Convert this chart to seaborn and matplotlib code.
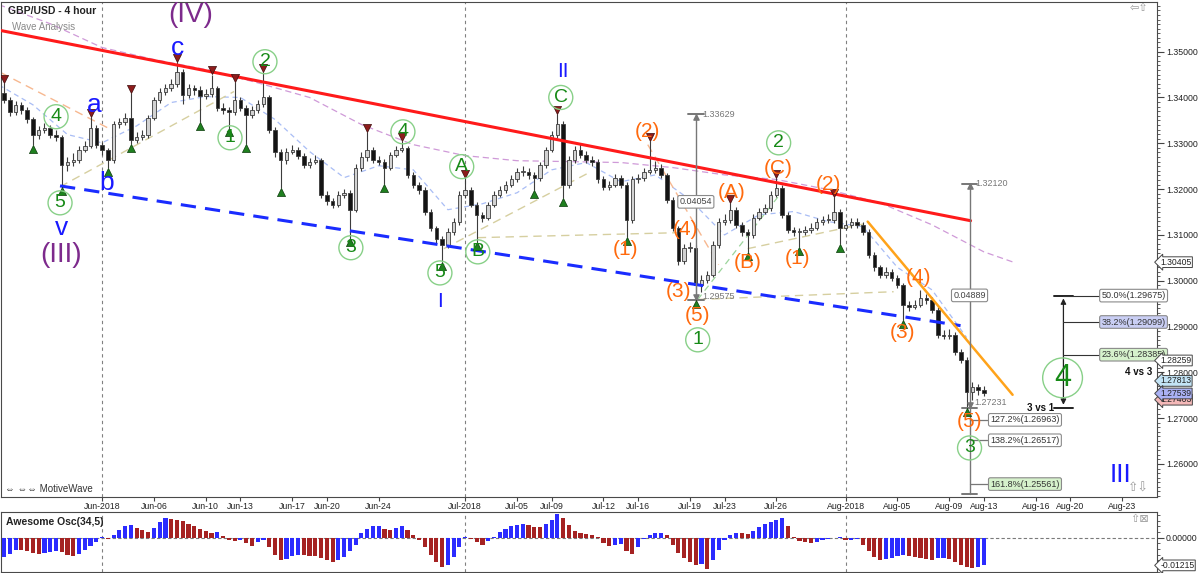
import numpy as np
import pandas as pd
import seaborn as sns
import matplotlib.pyplot as plt
import matplotlib.transforms as mtransforms
from matplotlib.patches import Rectangle
from matplotlib.ticker import MultipleLocator, FormatStrFormatter

# GBP/USD, resampled to 8 hour bars (trading days only)
first_bar = "2018-05-24 08:00"
last_bar = "2018-08-13 00:00"
first_open = 1.3410

closes = [
    1.3395, 1.3369, 1.3384, 1.3373, 1.3352, 1.3317, 1.3330, 1.3334, 1.3319, 1.3314,
    1.3253, 1.3260, 1.3264, 1.3286, 1.3295, 1.3334, 1.3297, 1.3286, 1.3264, 1.3341,
    1.3347, 1.3356, 1.3308, 1.3314, 1.3319, 1.3356, 1.3395, 1.3413, 1.3421, 1.3430,
    1.3456, 1.3406, 1.3421, 1.3417, 1.3404, 1.3408, 1.3421, 1.3378, 1.3373, 1.3369,
    1.3395, 1.3378, 1.3362, 1.3373, 1.3386, 1.3400, 1.3330, 1.3282, 1.3264, 1.3282,
    1.3286, 1.3273, 1.3253, 1.3260, 1.3264, 1.3188, 1.3173, 1.3166, 1.3188, 1.3192,
    1.3155, 1.3247, 1.3269, 1.3286, 1.3264, 1.3260, 1.3247, 1.3275, 1.3286, 1.3290,
    1.3231, 1.3210, 1.3199, 1.3151, 1.3116, 1.3090, 1.3079, 1.3107, 1.3129, 1.3188,
    1.3199, 1.3166, 1.3144, 1.3138, 1.3166, 1.3188, 1.3199, 1.3210, 1.3221, 1.3238,
    1.3238, 1.3231, 1.3225, 1.3253, 1.3286, 1.3319, 1.3341, 1.3210, 1.3264, 1.3286,
    1.3275, 1.3264, 1.3260, 1.3221, 1.3205, 1.3210, 1.3225, 1.3210, 1.3133, 1.3221,
    1.3225, 1.3238, 1.3242, 1.3247, 1.3231, 1.3177, 1.3116, 1.3042, 1.3072, 1.3072,
    1.2991, 1.3002, 1.3013, 1.3079, 1.3129, 1.3133, 1.3155, 1.3122, 1.3107, 1.3100,
    1.3138, 1.3151, 1.3159, 1.3188, 1.3203, 1.3144, 1.3111, 1.3107, 1.3107, 1.3111,
    1.3116, 1.3129, 1.3133, 1.3133, 1.3151, 1.3116, 1.3122, 1.3129, 1.3122, 1.3107,
    1.3057, 1.3029, 1.3013, 1.3020, 1.3007, 1.2991, 1.2948, 1.2943, 1.2948, 1.2963,
    1.2959, 1.2937, 1.2882, 1.2880, 1.2882, 1.2845, 1.2828, 1.2758, 1.2767, 1.2762,
    1.2754,
]
highs = [
    1.3432, 1.3402, 1.3393, 1.3390, 1.3380, 1.3358, 1.3338, 1.3345, 1.3340, 1.3328,
    1.3318, 1.3270, 1.3278, 1.3295, 1.3305, 1.3358, 1.3340, 1.3303, 1.3290, 1.3348,
    1.3356, 1.3366, 1.3410, 1.3325, 1.3330, 1.3362, 1.3402, 1.3420, 1.3430, 1.3440,
    1.3478, 1.3462, 1.3430, 1.3428, 1.3424, 1.3418, 1.3450, 1.3426, 1.3388, 1.3380,
    1.3434, 1.3400, 1.3384, 1.3382, 1.3395, 1.3456, 1.3405, 1.3335, 1.3288, 1.3290,
    1.3296, 1.3292, 1.3278, 1.3268, 1.3275, 1.3268, 1.3195, 1.3180, 1.3196, 1.3200,
    1.3198, 1.3255, 1.3280, 1.3325, 1.3292, 1.3272, 1.3266, 1.3282, 1.3294, 1.3304,
    1.3295, 1.3238, 1.3216, 1.3204, 1.3156, 1.3120, 1.3098, 1.3114, 1.3136, 1.3195,
    1.3225, 1.3205, 1.3172, 1.3150, 1.3172, 1.3195, 1.3206, 1.3218, 1.3230, 1.3246,
    1.3250, 1.3245, 1.3238, 1.3260, 1.3292, 1.3326, 1.3363, 1.3348, 1.3272, 1.3295,
    1.3300, 1.3284, 1.3272, 1.3266, 1.3228, 1.3218, 1.3232, 1.3230, 1.3215, 1.3228,
    1.3234, 1.3246, 1.3304, 1.3262, 1.3254, 1.3236, 1.3182, 1.3120, 1.3080, 1.3085,
    1.3078, 1.3012, 1.3022, 1.3086, 1.3136, 1.3145, 1.3170, 1.3160, 1.3128, 1.3112,
    1.3145, 1.3158, 1.3168, 1.3196, 1.3225, 1.3208, 1.3150, 1.3118, 1.3116, 1.3120,
    1.3126, 1.3136, 1.3142, 1.3145, 1.3183, 1.3156, 1.3132, 1.3138, 1.3136, 1.3128,
    1.3112, 1.3062, 1.3034, 1.3030, 1.3026, 1.3012, 1.2996, 1.2955, 1.2958, 1.2980,
    1.2972, 1.2964, 1.2942, 1.2892, 1.2894, 1.2888, 1.2850, 1.2834, 1.2778, 1.2775,
    1.2770,
]
lows = [
    1.3388, 1.3360, 1.3362, 1.3365, 1.3345, 1.3297, 1.3310, 1.3322, 1.3312, 1.3305,
    1.3205, 1.3240, 1.3250, 1.3258, 1.3280, 1.3290, 1.3290, 1.3275, 1.3247, 1.3258,
    1.3333, 1.3340, 1.3299, 1.3300, 1.3307, 1.3312, 1.3350, 1.3388, 1.3405, 1.3414,
    1.3422, 1.3385, 1.3398, 1.3405, 1.3347, 1.3396, 1.3402, 1.3370, 1.3365, 1.3334,
    1.3362, 1.3370, 1.3299, 1.3355, 1.3366, 1.3380, 1.3322, 1.3270, 1.3203, 1.3255,
    1.3276, 1.3266, 1.3245, 1.3246, 1.3254, 1.3180, 1.3165, 1.3158, 1.3160, 1.3180,
    1.3094, 1.3150, 1.3240, 1.3262, 1.3258, 1.3252, 1.3212, 1.3242, 1.3270, 1.3280,
    1.3225, 1.3202, 1.3190, 1.3144, 1.3108, 1.3082, 1.3042, 1.3072, 1.3100, 1.3122,
    1.3180, 1.3160, 1.3085, 1.3128, 1.3132, 1.3160, 1.3182, 1.3192, 1.3204, 1.3215,
    1.3228, 1.3222, 1.3199, 1.3218, 1.3246, 1.3280, 1.3312, 1.3181, 1.3202, 1.3258,
    1.3268, 1.3256, 1.3250, 1.3214, 1.3198, 1.3198, 1.3204, 1.3203, 1.3096, 1.3126,
    1.3214, 1.3218, 1.3232, 1.3236, 1.3224, 1.3170, 1.3108, 1.3035, 1.3036, 1.3062,
    1.2958, 1.2975, 1.2995, 1.3008, 1.3072, 1.3122, 1.3126, 1.3115, 1.3098, 1.3063,
    1.3094, 1.3132, 1.3145, 1.3152, 1.3182, 1.3138, 1.3104, 1.3098, 1.3074, 1.3100,
    1.3105, 1.3110, 1.3122, 1.3125, 1.3126, 1.3081, 1.3110, 1.3115, 1.3115, 1.3100,
    1.3050, 1.3022, 1.3006, 1.3005, 1.3000, 1.2984, 1.2915, 1.2935, 1.2938, 1.2942,
    1.2950, 1.2930, 1.2874, 1.2872, 1.2873, 1.2838, 1.2820, 1.2723, 1.2740, 1.2750,
    1.2748,
]
# Awesome Oscillator (34,5), one value per bar
ao_values = [
    -0.0086, -0.0070, -0.0052, -0.0055, -0.0060, -0.0066, -0.0072, -0.0068, -0.0062, -0.0058,
    -0.0064, -0.0075, -0.0082, -0.0070, -0.0052, -0.0035, -0.0018, 0.0003, -0.0004, 0.0010,
    0.0035, 0.0052, 0.0058, 0.0045, 0.0032, 0.0025, 0.0045, 0.0068, 0.0086, 0.0084,
    0.0080, 0.0072, 0.0062, 0.0052, 0.0040, 0.0030, 0.0022, 0.0025, 0.0008, -0.0012,
    -0.0016, -0.0010, -0.0025, -0.0035, -0.0020, -0.0012, -0.0040, -0.0075, -0.0098, -0.0092,
    -0.0080, -0.0075, -0.0077, -0.0079, -0.0081, -0.0088, -0.0100, -0.0107, -0.0100, -0.0085,
    -0.0060, -0.0030, 0.0020, 0.0040, 0.0050, 0.0052, 0.0040, 0.0035, 0.0045, 0.0052,
    0.0035, 0.0012, -0.0010, -0.0040, -0.0075, -0.0105, -0.0130, -0.0120, -0.0085, -0.0040,
    0.0003, -0.0005, -0.0018, -0.0030, -0.0015, 0.0005, 0.0025, 0.0040, 0.0050, 0.0058,
    0.0062, 0.0058, 0.0048, 0.0046, 0.0060, 0.0080, 0.0103, 0.0085, 0.0055, 0.0030,
    0.0020, 0.0016, 0.0012, 0.0005, -0.0025, -0.0035, -0.0030, -0.0028, -0.0060, -0.0071,
    -0.0040, -0.0005, 0.0012, 0.0020, 0.0023, 0.0010, -0.0030, -0.0065, -0.0090, -0.0105,
    -0.0118, -0.0115, -0.0136, -0.0100, -0.0055, -0.0010, 0.0012, 0.0023, 0.0020, 0.0018,
    0.0030, 0.0048, 0.0060, 0.0068, 0.0076, 0.0086, 0.0050, 0.0005, -0.0015, -0.0020,
    -0.0022, -0.0018, -0.0012, -0.0006, -0.0002, 0.0002, -0.0010, -0.0008, -0.0006, -0.0030,
    -0.0060, -0.0085, -0.0100, -0.0095, -0.0088, -0.0082, -0.0078, -0.0080, -0.0085, -0.0090,
    -0.0093, -0.0096, -0.0090, -0.0088, -0.0092, -0.0105, -0.0118, -0.0130, -0.0134, -0.0128,
    -0.01215,
]

# moving averages drawn on the chart
slow_ma_dates = ["2018-05-24", "2018-05-29", "2018-06-01", "2018-06-06", "2018-06-11", "2018-06-14",
                 "2018-06-19", "2018-06-22", "2018-06-27", "2018-07-02", "2018-07-05", "2018-07-10",
                 "2018-07-13", "2018-07-18", "2018-07-23", "2018-07-26", "2018-07-31", "2018-08-03",
                 "2018-08-08", "2018-08-13", "2018-08-14 16:00"]
slow_ma = [1.3603, 1.3561, 1.3509, 1.3483, 1.3461, 1.3432, 1.3400, 1.3341, 1.3297, 1.3273, 1.3262,
           1.3260, 1.3258, 1.3247, 1.3231, 1.3221, 1.3199, 1.3170, 1.3122, 1.3063, 1.3041]
fast_ma_dates = ["2018-05-24", "2018-05-28", "2018-05-30", "2018-06-01", "2018-06-05", "2018-06-07",
                 "2018-06-11", "2018-06-13", "2018-06-15", "2018-06-19", "2018-06-21", "2018-06-25",
                 "2018-06-27", "2018-06-29", "2018-07-03", "2018-07-05", "2018-07-09", "2018-07-11",
                 "2018-07-13", "2018-07-17", "2018-07-19", "2018-07-23", "2018-07-25", "2018-07-27",
                 "2018-07-31", "2018-08-02", "2018-08-06", "2018-08-08", "2018-08-10"]
fast_ma = [1.3428, 1.3384, 1.3319, 1.3301, 1.3338, 1.3389, 1.3402, 1.3400, 1.3352, 1.3282, 1.3225,
           1.3251, 1.3242, 1.3155, 1.3168, 1.3192, 1.3242, 1.3258, 1.3216, 1.3231, 1.3177, 1.3100,
           1.3144, 1.3151, 1.3129, 1.3118, 1.3029, 1.2980, 1.2876]

tick_dates = ["2018-06-01", "2018-06-06", "2018-06-10", "2018-06-13", "2018-06-17", "2018-06-20",
              "2018-06-24", "2018-07-01", "2018-07-05", "2018-07-09", "2018-07-12", "2018-07-16",
              "2018-07-19", "2018-07-23", "2018-07-26", "2018-08-01", "2018-08-05", "2018-08-09",
              "2018-08-13", "2018-08-16", "2018-08-20", "2018-08-23"]
tick_labels = ["Jun-2018", "Jun-06", "Jun-10", "Jun-13", "Jun-17", "Jun-20", "Jun-24", "Jul-2018",
               "Jul-05", "Jul-09", "Jul-12", "Jul-16", "Jul-19", "Jul-23", "Jul-26", "Aug-2018",
               "Aug-05", "Aug-09", "Aug-13", "Aug-16", "Aug-20", "Aug-23"]
month_starts = ["2018-06-01", "2018-07-01", "2018-08-01"]

# swing markers (bar numbers)
peak_bars = [0, 15, 22, 30, 36, 40, 45, 63, 69, 80, 96, 112, 126, 134, 144]
trough_bars = [5, 10, 18, 22, 34, 39, 42, 48, 60, 66, 76, 82, 92, 97, 108, 120, 129, 138, 145, 156, 167]

# wave labels: text, trading day (0 = 1 Jun 2018), price, kind
waves = [
    ("(IV)", 5.14, 1.3581, "purple"), ("(III)", -2.37, 1.3057, "purple"),
    ("c", 4.39, 1.3509, "blue"), ("a", -0.46, 1.3384, "blue"), ("b", 0.29, 1.3214, "blue"),
    ("v", -2.37, 1.3116, "blue"), ("II", 26.65, 1.3456, "blue_s"), ("I", 19.54, 1.2954, "blue_s"),
    ("III", 58.9, 1.2577, "blue"),
    ("4", -2.66, 1.3358, "green"), ("5", -2.43, 1.3170, "green"), ("2", 9.42, 1.3478, "green"),
    ("1", 7.40, 1.3312, "green"), ("3", 14.39, 1.3072, "green"), ("4", 17.40, 1.3325, "green"),
    ("5", 19.54, 1.3017, "green"), ("A", 20.80, 1.3249, "green"), ("B", 21.73, 1.3063, "green"),
    ("C", 26.53, 1.3400, "green"), ("2", 39.13, 1.3301, "green"), ("1", 34.45, 1.2871, "green"),
    ("3", 50.17, 1.2635, "green"), ("4", 55.55, 1.2788, "green_big"),
    ("(2)", 31.56, 1.3325, "orange"), ("(1)", 30.29, 1.3068, "orange"), ("(4)", 33.76, 1.3111, "orange"),
    ("(3)", 33.35, 1.2976, "orange"), ("(5)", 34.45, 1.2924, "orange"), ("(A)", 36.42, 1.3192, "orange"),
    ("(B)", 37.34, 1.3039, "orange"), ("(C)", 39.13, 1.3245, "orange"), ("(1)", 40.23, 1.3048, "orange"),
    ("(2)", 42.02, 1.3210, "orange"), ("(3)", 46.30, 1.2887, "orange"), ("(4)", 47.23, 1.3007, "orange"),
    ("(5)", 50.17, 1.2692, "orange"),
]

# trend lines: (day1, price1, day2, price2)
red_line = (-5.84, 1.3546, 50.23, 1.3131)
blue_line = (-2.43, 1.3207, 49.65, 1.2902)
orange_line = (44.28, 1.3129, 52.66, 1.2751)
tan_lines = [(-2.43, 1.3205, 7.63, 1.3413), (19.77, 1.3070, 28.27, 1.3238), (21.73, 1.3094, 33.47, 1.3105),
             (37.34, 1.3070, 44.05, 1.3124), (34.45, 1.2959, 45.78, 1.2976)]
salmon_lines = [(-5.84, 1.3454, 0.52, 1.3330), (31.56, 1.3297, 35.66, 1.3035)]
green_lines = [(34.45, 1.2959, 39.42, 1.3199)]

# measurement tools
move_a = (34.34, 1.33629, 1.29575, "0.04054")
move_b = (50.17, 1.32120, 1.27231, "0.04889")
ext_levels = [(1.26963, "127.2%(1.26963)", "#ffffff"), (1.26517, "138.2%(1.26517)", "#ffffff"),
              (1.25561, "161.8%(1.25561)", "#d6f2cc")]
retr_day = 55.6
retr_levels = [(1.29675, "50.0%(1.29675)", "#ffffff"), (1.29099, "38.2%(1.29099)", "#c9cef4"),
               (1.28385, "23.6%(1.28385)", "#d6f2cc")]
price_tags = [(1.30405, "#ffffff"), (1.28259, "#ffffff"), (1.27813, "#c3e4f6"),
              (1.27403, "#f4b8b8"), (1.27539, "#aab1f4")]
ao_tag = -0.01215


def tday(stamp):
    ts = pd.Timestamp(stamp)
    return float(np.busday_count("2018-06-01", ts.strftime("%Y-%m-%d"))) + (ts.hour + ts.minute / 60) / 24


stamps = [d + pd.Timedelta(hours=h) for d in pd.bdate_range("2018-05-24", "2018-08-13") for h in (0, 8, 16)]
stamps = [s for s in stamps if pd.Timestamp(first_bar) <= s <= pd.Timestamp(last_bar)]
bars = pd.DataFrame({"t": [tday(s) for s in stamps], "open": [first_open] + closes[:-1],
                     "high": highs, "low": lows, "close": closes, "ao": ao_values})

sns.set_theme(style="white", rc={"axes.edgecolor": "#4a4a4a", "axes.linewidth": 0.8})
plt.rcParams["font.family"] = ["Liberation Sans", "DejaVu Sans"]

fig = plt.figure(figsize=(12, 5.73), dpi=100)
ax = fig.add_axes([0.001, 0.1335, 0.963, 0.8635])
ao_ax = fig.add_axes([0.001, 0.002, 0.963, 0.104])

# moving averages
sns.lineplot(data=pd.DataFrame({"t": [tday(d) for d in slow_ma_dates], "p": slow_ma}), x="t", y="p",
             ax=ax, color="#cf9ad8", lw=0.9, linestyle=(0, (5, 3)), estimator=None, sort=False, zorder=2)
sns.lineplot(data=pd.DataFrame({"t": [tday(d) for d in fast_ma_dates], "p": fast_ma}), x="t", y="p",
             ax=ax, color="#a9bdf5", lw=0.9, linestyle=(0, (4, 3)), estimator=None, sort=False, zorder=2)

for t1, p1, t2, p2 in tan_lines:
    ax.plot([t1, t2], [p1, p2], color="#d6cfa0", lw=1.0, ls=(0, (6, 4)), zorder=2)
for t1, p1, t2, p2 in salmon_lines:
    ax.plot([t1, t2], [p1, p2], color="#f7b890", lw=1.0, ls=(0, (6, 4)), zorder=2)
for t1, p1, t2, p2 in green_lines:
    ax.plot([t1, t2], [p1, p2], color="#9bd49b", lw=0.9, ls=(0, (5, 4)), zorder=2)

# candles
ax.vlines(bars.t, bars.low, bars.high, color="#3c3c3c", lw=0.8, zorder=3)
for r in bars.itertuples():
    lo, hi = min(r.open, r.close), max(r.open, r.close)
    ax.add_patch(Rectangle((r.t - 0.1, lo), 0.2, max(hi - lo, 0.00012),
                           facecolor="#d2d2d2" if r.close >= r.open else "#141414",
                           edgecolor="#3c3c3c", lw=0.6, zorder=4))

pk = bars.iloc[peak_bars]
ax.scatter(pk.t, pk.high + 0.0009, marker="v", s=34, color="#8e1c1c", edgecolor="#3b0b0b", lw=0.5, zorder=6)
tr = bars.iloc[trough_bars]
ax.scatter(tr.t, tr.low - 0.0009, marker="^", s=34, color="#1f801f", edgecolor="#0b3b0b", lw=0.5, zorder=6)

# trend lines
ax.plot(red_line[0::2], red_line[1::2], color="#ff1a1a", lw=2.2, zorder=5)
ax.plot(blue_line[0::2], blue_line[1::2], color="#1a2cff", lw=2.2, ls=(0, (5, 3)), zorder=5)
ax.plot(orange_line[0::2], orange_line[1::2], color="#ffa31a", lw=1.8, zorder=5)

for m in month_starts:
    for a in (ax, ao_ax):
        a.axvline(tday(m), color="#808080", lw=0.8, ls=(0, (3, 3)), zorder=1)

styles = {
    "purple": dict(color="#7d2a8c", fontsize=20),
    "blue": dict(color="#1a1aff", fontsize=19),
    "blue_s": dict(color="#1a1aff", fontsize=15),
    "orange": dict(color="#ff6a0d", fontsize=15),
    "green": dict(color="#178a17", fontsize=14,
                  bbox=dict(boxstyle="circle,pad=0.18", fc="none", ec="#88d088", lw=1.0)),
    "green_big": dict(color="#178a17", fontsize=22,
                      bbox=dict(boxstyle="circle,pad=0.16", fc="none", ec="#88d088", lw=1.0)),
}
for txt, t, p, kind in waves:
    ax.text(t, p, txt, ha="center", va="center", zorder=7, **styles[kind])

grey = "#777777"
small_box = dict(boxstyle="round,pad=0.2", fc="white", ec="#8a8a8a", lw=0.8)

# measured move A
t, top, bot, lab = move_a
ax.plot([t, t], [bot, top], color=grey, lw=1.0, zorder=5)
for p in (top, bot):
    ax.plot([t - 0.45, t + 0.45], [p, p], color=grey, lw=1.4, zorder=5)
ax.scatter([t], [top - 0.0006], marker="^", s=14, color=grey, zorder=5)
ax.scatter([t], [bot + 0.0006], marker="v", s=14, color=grey, zorder=5)
ax.text(t + 0.35, top, f"{top:.5f}", fontsize=6.5, color=grey, va="center", zorder=7)
ax.text(t + 0.35, bot + 0.0007, f"{bot:.5f}", fontsize=6.5, color=grey, va="center", zorder=7)
ax.text(t, (top + bot) / 2 + 0.0012, lab, fontsize=6.5, color="#444", ha="center", va="center", bbox=small_box, zorder=8)

# measured move B with extensions
t, top, bot, lab = move_b
ax.plot([t, t], [1.2535, top], color=grey, lw=1.0, zorder=5)
for p in (top, bot, 1.2535):
    ax.plot([t - 0.45, t + 0.45], [p, p], color=grey, lw=1.4, zorder=5)
ax.scatter([t], [top - 0.0006], marker="^", s=14, color=grey, zorder=5)
ax.scatter([t], [bot + 0.0006], marker="v", s=14, color=grey, zorder=5)
ax.text(t + 0.35, top, f"{top:.5f}", fontsize=6.5, color=grey, va="center", zorder=7)
ax.text(t + 0.3, bot + 0.0011, f"{bot:.5f}", fontsize=6.5, color=grey, va="center", zorder=7)
ax.text(t, 1.2968, lab, fontsize=6.5, color="#444", ha="center", va="center", bbox=small_box, zorder=8)
for p, txt, fc in ext_levels:
    ax.plot([t, t + 1.1], [p, p], color=grey, lw=0.9, zorder=5)
    ax.text(t + 1.2, p, txt, fontsize=6.5, color="#333", va="center", zorder=8,
            bbox=dict(boxstyle="round,pad=0.2", fc=fc, ec="#8a8a8a", lw=0.8))
ax.text(54.3, 1.2723, "3 vs 1", fontsize=7, fontweight="bold", color="#111", ha="center", va="center")

# retracement of wave 3
top, bot = retr_levels[0][0], move_b[2]
ax.annotate("", xy=(retr_day, top), xytext=(retr_day, bot),
            arrowprops=dict(arrowstyle="<|-|>", color="#222", lw=0.9, mutation_scale=8), zorder=5)
for p in (top, bot):
    ax.plot([retr_day - 0.55, retr_day + 0.55], [p, p], color="#222", lw=1.4, zorder=5)
for p, txt, fc in retr_levels:
    ax.plot([retr_day, 57.75], [p, p], color="#333", lw=0.8, zorder=5)
    ax.text(57.8, p, txt, fontsize=6.5, color="#333", va="center", zorder=8,
            bbox=dict(boxstyle="round,pad=0.2", fc=fc, ec="#8a8a8a", lw=0.8))
ax.text(60.75, 1.2800, "4 vs 3", fontsize=7, fontweight="bold", color="#111", ha="right", va="center")

# axes, ticks
ax.set_xlim(tday("2018-05-24 04:00"), tday("2018-08-27 00:00"))
ax.set_ylim(1.2529, 1.3609)
ax.set_xlabel("")
ax.set_ylabel("")
ax.yaxis.tick_right()
ax.set_yticks(np.arange(1.26, 1.3501, 0.01))
ax.yaxis.set_major_formatter(FormatStrFormatter("%.5f"))
ax.yaxis.set_minor_locator(MultipleLocator(0.001))
ax.tick_params(axis="y", which="both", right=True, left=False, labelright=True, labelleft=False,
               direction="out", colors="#444", labelcolor="#222", labelsize=6.3, pad=1.5)
ax.tick_params(axis="y", which="major", length=5, width=0.8)
ax.tick_params(axis="y", which="minor", length=2.5, width=0.6)
ax.set_xticks([tday(d) for d in tick_dates])
ax.set_xticklabels(tick_labels)
ax.tick_params(axis="x", bottom=True, length=3, width=0.8, colors="#444", labelcolor="#222",
               labelsize=6.3, pad=1)

ytrans = mtransforms.blended_transform_factory(ax.transAxes, ax.transData)
for p, fc in price_tags:
    ax.text(1.003, p, f"{p:.5f}", transform=ytrans, fontsize=6.2, color="#222", va="center", ha="left",
            clip_on=False, zorder=9, bbox=dict(boxstyle="larrow,pad=0.1", fc=fc, ec="#444", lw=0.7))

ax.text(0.006, 0.982, "GBP/USD - 4 hour", transform=ax.transAxes, fontsize=7.5, fontweight="bold",
        color="#222", va="center")
ax.text(0.009, 0.948, "Wave Analysis", transform=ax.transAxes, fontsize=7, color="#8a8a8a", va="center")
ax.text(0.003, 0.016, "\u21d4 \u21d4\u21d4 MotiveWave", transform=ax.transAxes, fontsize=7, color="#333",
        va="center", family=["Liberation Sans", "DejaVu Sans"])
ax.text(0.993, 0.988, "\u21e6\u21e7", transform=ax.transAxes, fontsize=8, color="#999", ha="right",
        va="center", family=["DejaVu Sans"])
ax.text(0.993, 0.016, "\u21e7\u21e9", transform=ax.transAxes, fontsize=9, color="#999", ha="right",
        va="center", family=["DejaVu Sans"])

# Awesome Oscillator
ao_up = np.r_[True, np.diff(bars.ao.values) > 0]
ao_ax.bar(bars.t, bars.ao, width=0.24, color=np.where(ao_up, "#2b2bff", "#a52222"), lw=0, zorder=3)
ao_ax.axhline(0, color="#7a7a7a", lw=0.8, ls=(0, (3, 2)), zorder=2)
ao_ax.set_xlim(ax.get_xlim())
ao_ax.set_ylim(-0.0150, 0.0112)
ao_ax.set_xticks([])
ao_ax.yaxis.tick_right()
ao_ax.set_yticks([0.0])
ao_ax.yaxis.set_major_formatter(FormatStrFormatter("%.5f"))
ao_ax.yaxis.set_minor_locator(MultipleLocator(0.0025))
ao_ax.tick_params(axis="y", which="both", right=True, left=False, labelright=True, labelleft=False,
                  direction="out", colors="#444", labelcolor="#222", labelsize=6.3, pad=1.5)
ao_ax.tick_params(axis="y", which="major", length=5, width=0.8)
ao_ax.tick_params(axis="y", which="minor", length=2.5, width=0.6)
ao_trans = mtransforms.blended_transform_factory(ao_ax.transAxes, ao_ax.transData)
ao_ax.text(1.003, ao_tag, f"{ao_tag:.5f}", transform=ao_trans, fontsize=6.2, color="#222", va="center",
           clip_on=False, zorder=9, bbox=dict(boxstyle="larrow,pad=0.1", fc="white", ec="#444", lw=0.7))
ao_ax.text(0.004, 0.83, "Awesome Osc(34,5)", transform=ao_ax.transAxes, fontsize=7.5, fontweight="bold",
           color="#222", va="center")
ao_ax.text(0.993, 0.88, "\u21e7\u22a0", transform=ao_ax.transAxes, fontsize=8, color="#999", ha="right",
           va="center", family=["DejaVu Sans"])

fig.savefig("out.png", dpi=100, facecolor="white")
